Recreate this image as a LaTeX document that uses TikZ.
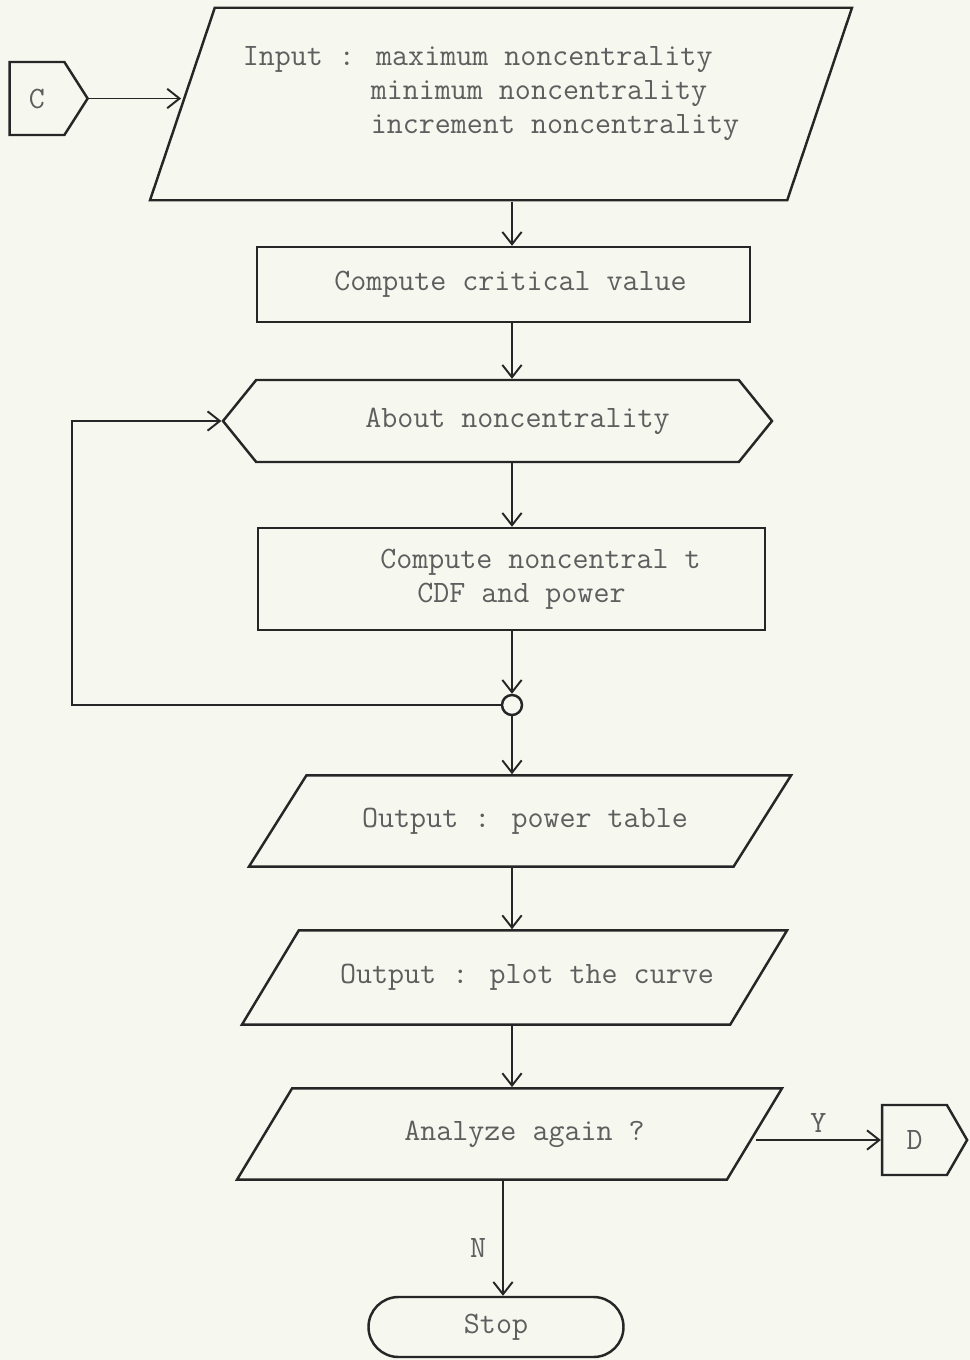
\documentclass[tikz,border=0pt]{standalone}
\usepackage{tikz}
\usetikzlibrary{shapes.geometric,shapes.symbols,shapes.misc,arrows.meta}
\newcommand{\pxUnit}[0]{0.02cm}
\newcommand{\flowFont}[0]{\fontsize{17.7}{19.5}\selectfont\ttfamily}
\definecolor{paperBg}{HTML}{F6F7EF}
\definecolor{inkLine}{HTML}{262626}
\definecolor{inkText}{HTML}{5E5E5E}

\begin{document}
\begin{tikzpicture}[x=\pxUnit, y=-\pxUnit]
  \tikzset{
    flow/.style={draw=inkLine, line width=1.4pt, text=inkText, font=\flowFont, inner sep=0pt},
    procbox/.style={flow, rectangle},
    iobox/.style 2 args={flow, trapezium, trapezium stretches body,
      trapezium left angle=#1, trapezium right angle=#2},
    loopbox/.style={flow, signal, signal to=east and west, signal pointer angle=102},
    offpage/.style={flow, signal, signal to=east},
    joint/.style={flow, circle, minimum size=20*\pxUnit},
    terminal/.style={flow, rounded rectangle},
    arr/.style={draw=inkLine, line width=1.1pt, -{Straight Barb[length=7pt,width=11pt]}},
    branch/.style={font=\flowFont, text=inkText, inner sep=4pt},
  }
  \useasboundingbox[fill=paperBg] (0,0) rectangle (970,1360);
  \coordinate (spine) at (512,0);
  \coordinate (nLine) at (503,0);
  \coordinate (loopX) at (72,0);

  % flow boxes
  \node[iobox={71.4}{108.6}, minimum width=702*\pxUnit, inner ysep=38.5*\pxUnit, align=left]
    (inp) at (501,104) {Input : maximum noncentrality\\
      \phantom{Input :\ }minimum noncentrality\\
      \phantom{Input :\ }increment noncentrality\hspace*{0.4cm}\rule[-0.9em]{0pt}{0pt}};
  \node[procbox, minimum width=493*\pxUnit, minimum height=75*\pxUnit]
    (crit) at (503.5,284.5) {\hspace*{0.28cm}Compute critical value};
  \node[loopbox, minimum width=549*\pxUnit, minimum height=82*\pxUnit]
    (about) at (497.5,421) {\hspace*{0.8cm}About noncentrality};
  \node[procbox, minimum width=507*\pxUnit, minimum height=102*\pxUnit, align=left]
    (cdf) at (511.5,579) {\hspace*{1.16cm}Compute noncentral t\\\hspace*{1.9cm}CDF and power};
  \node[joint] (join) at (512,705) {};
  \node[iobox={57.8}{122.2}, minimum width=542*\pxUnit, inner ysep=32.4*\pxUnit]
    (outTab) at (520,821) {\hspace*{0.2cm}Output : power table};
  \node[iobox={58.9}{121.1}, minimum width=545*\pxUnit, inner ysep=33.9*\pxUnit]
    (outPlot) at (514.5,977.5) {\hspace*{0.5cm}Output : plot the curve};
  \node[iobox={58.9}{121.1}, minimum width=545*\pxUnit, inner ysep=32.4*\pxUnit]
    (again) at (509.5,1134) {\hspace*{0.6cm}Analyze again ?};
  \node[terminal, minimum width=255*\pxUnit, minimum height=60*\pxUnit]
    (stop) at (496,1327) {Stop};

  % off-page connectors
  \node[offpage, signal pointer angle=115, minimum width=78*\pxUnit, minimum height=73*\pxUnit]
    (conC) at (37,98.5) {C};
  \node[offpage, signal pointer angle=120, minimum width=85*\pxUnit, minimum height=70*\pxUnit]
    (conD) at (914.5,1140) {D};

  % connectors
  \draw[arr] (conC.east) -- (conC.east -| inp.west);
  \draw[arr] (inp.south -| spine) -- (crit.north -| spine);
  \draw[arr] (crit.south -| spine) -- (about.north -| spine);
  \draw[arr] (about.south -| spine) -- (cdf.north -| spine);
  \draw[arr] (cdf.south -| spine) -- (join.north);
  \draw[arr] (join.west) -- (join.west -| loopX) |- (about.west);
  \draw[arr] (join.south) -- (outTab.north -| spine);
  \draw[arr] (outTab.south -| spine) -- (outPlot.north -| spine);
  \draw[arr] (outPlot.south -| spine) -- (again.north -| spine);
  \draw[arr] (conD.west -| again.east) -- node[branch, above] (yLabel) {Y} (conD.west);
  \draw[arr] (again.south -| nLine) -- node[branch, left, pos=0.58, inner sep=9pt] (nLabel) {N} (stop.north -| nLine);
\end{tikzpicture}
\end{document}
